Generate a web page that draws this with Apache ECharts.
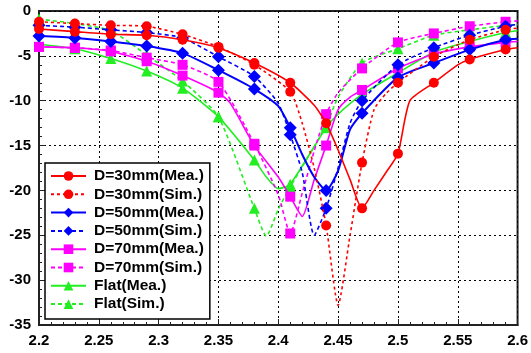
<!DOCTYPE html>
<html>
<head>
<meta charset="utf-8">
<script src="https://cdn.jsdelivr.net/npm/echarts@6/dist/echarts.min.js"></script>
<style>
html,body{margin:0;padding:0;background:#fff;}
#chart{width:531px;height:353px;}
</style>
</head>
<body>
<div id="chart"></div>
<script>
// ---- data (frequency in GHz, S11 in dB) ----
const seriesNames = ['D=30mm(Mea.)','D=30mm(Sim.)','D=50mm(Mea.)','D=50mm(Sim.)','D=70mm(Mea.)','D=70mm(Sim.)','Flat(Mea.)','Flat(Sim.)'];

const d30MeaF = [2.20,2.23,2.26,2.29,2.32,2.35,2.38,2.41,2.43,2.44,2.45,2.46,2.47,2.48,2.49,2.50,2.51,2.53,2.55,2.56,2.59,2.60];
const d30MeaY = [-2.0,-2.3,-2.6,-2.7,-3.2,-4.1,-5.8,-8.0,-10.5,-12.5,-15.5,-18.8,-22.0,-20.0,-18.0,-15.9,-10.0,-8.0,-6.0,-5.4,-4.3,-4.1];

const d30SimF = [2.20,2.23,2.26,2.29,2.32,2.35,2.38,2.41,2.42,2.43,2.44,2.45,2.46,2.47,2.48,2.49,2.50,2.53,2.56,2.59,2.60];
const d30SimY = [-1.2,-1.4,-1.6,-1.7,-2.6,-4.0,-6.0,-9.0,-12.5,-17.5,-23.9,-32.8,-25.0,-16.9,-11.0,-9.2,-8.0,-5.1,-3.2,-2.1,-1.9];

const d50MeaF = [2.20,2.23,2.26,2.29,2.32,2.35,2.38,2.40,2.41,2.42,2.43,2.44,2.45,2.46,2.47,2.50,2.53,2.56,2.59,2.60];
const d50MeaY = [-2.8,-3.0,-3.4,-3.9,-4.7,-6.6,-8.7,-10.6,-13.0,-16.0,-18.5,-20.0,-17.8,-13.2,-11.4,-7.4,-5.8,-4.3,-3.2,-3.1];

const d50SimF = [2.20,2.23,2.26,2.29,2.32,2.35,2.38,2.40,2.41,2.42,2.43,2.44,2.45,2.46,2.47,2.50,2.53,2.56,2.59,2.60];
const d50SimY = [-1.6,-1.8,-2.1,-2.4,-3.0,-5.1,-7.3,-10.3,-13.8,-18.0,-25.0,-22.0,-17.5,-12.5,-10.0,-6.0,-4.1,-2.7,-1.7,-1.5];

const d70MeaF = [2.20,2.23,2.26,2.29,2.32,2.35,2.36,2.38,2.40,2.41,2.42,2.43,2.44,2.45,2.46,2.47,2.50,2.53,2.56,2.59,2.60];
const d70MeaY = [-4.0,-4.1,-4.5,-5.6,-7.2,-9.1,-10.3,-15.0,-18.5,-20.7,-22.9,-18.8,-15.0,-11.0,-9.6,-8.8,-6.4,-4.8,-4.0,-3.5,-3.4];

const d70SimF = [2.20,2.23,2.26,2.29,2.32,2.35,2.38,2.40,2.41,2.42,2.43,2.44,2.45,2.47,2.50,2.53,2.56,2.59,2.60];
const d70SimY = [-4.0,-4.1,-4.4,-5.2,-6.0,-7.9,-14.8,-20.5,-24.8,-20.3,-15.6,-11.5,-9.1,-6.4,-3.5,-2.5,-1.7,-1.2,-1.1];

const flatMeaF = [2.20,2.23,2.26,2.29,2.32,2.35,2.38,2.39,2.40,2.41,2.44,2.45,2.47,2.50,2.53,2.56,2.59,2.60];
const flatMeaY = [-3.7,-4.2,-5.3,-6.7,-8.6,-11.8,-16.6,-18.5,-19.8,-19.3,-13.0,-11.5,-9.3,-6.9,-4.6,-3.4,-2.4,-2.2];

const flatSimF = [2.20,2.23,2.26,2.29,2.32,2.35,2.38,2.39,2.40,2.41,2.44,2.45,2.47,2.50,2.53,2.56,2.59,2.60];
const flatSimY = [-0.9,-1.4,-2.2,-4.9,-7.8,-11.8,-22.0,-25.1,-22.1,-19.6,-12.8,-9.6,-5.8,-4.2,-2.7,-2.1,-1.6,-1.5];

// marker positions: every 0.03 GHz starting at 2.20
const markerStart = 2.20, markerStep = 0.03;

// ---- build ----
function pairs(f, y){ return f.map((v,i)=>[v, y[i]]); }
function isMarker(x){ const k=(x-markerStart)/markerStep; return Math.abs(k-Math.round(k))<1e-6 && x<2.595; }

const styles = [
  {color:'#ff0000', type:'solid', symbol:'circle', size:10},
  {color:'#ff0000', type:[3,3], symbol:'circle', size:10},
  {color:'#0000ff', type:'solid', symbol:'diamond', size:13},
  {color:'#0000ff', type:[4,3], symbol:'diamond', size:13},
  {color:'#ff00ff', type:'solid', symbol:'rect', size:10},
  {color:'#ff00ff', type:[4,3], symbol:'rect', size:10},
  {color:'#22ee22', type:'solid', symbol:'triangle', size:11},
  {color:'#22ee22', type:[4,3], symbol:'triangle', size:11}
];
const dataSets = [
  pairs(d30MeaF,d30MeaY), pairs(d30SimF,d30SimY),
  pairs(d50MeaF,d50MeaY), pairs(d50SimF,d50SimY),
  pairs(d70MeaF,d70MeaY), pairs(d70SimF,d70SimY),
  pairs(flatMeaF,flatMeaY), pairs(flatSimF,flatSimY)
];

const series = dataSets.map((d,i)=>{
  const s = styles[i];
  return {
    name: seriesNames[i],
    type: 'line',
    data: d,
    smooth: 0.2,
    symbol: s.symbol,
    symbolSize: function(v){ return isMarker(v[0]) ? s.size : 0; },
    showAllSymbol: true,
    lineStyle: {color: s.color, width: (i===2?2:1.6), type: s.type},
    itemStyle: {color: s.color},
    emphasis: {disabled: true},
    z: 3 + (7 - i)
  };
});

const labelFont = {fontFamily:'Liberation Sans, Arial, sans-serif', fontWeight:'bold', fontSize:15, color:'#000'};

const chart = echarts.init(document.getElementById('chart'), null, {renderer:'canvas'});
chart.setOption({
  animation: false,
  backgroundColor: '#fff',
  grid: {left:39, right:12, top:11, bottom:28, show:true, borderColor:'#222', borderWidth:2, backgroundColor:'transparent'},
  xAxis: {
    type:'value', min:2.2, max:2.6, interval:0.05,
    axisLine:{show:true, onZero:false, lineStyle:{color:'#222', width:2}},
    axisTick:{show:true, inside:true, length:6, lineStyle:{color:'#222', width:1}},
    minorTick:{show:true, splitNumber:5, length:3, lineStyle:{color:'#222', width:1}},
    splitLine:{show:true, lineStyle:{color:'#000', width:1, type:[2,3]}},
    axisLabel:Object.assign({margin:8, formatter:(v)=>String(parseFloat(v.toFixed(2)))}, labelFont)
  },
  yAxis: {
    type:'value', min:-35, max:0, interval:5,
    axisLine:{show:true, onZero:false, lineStyle:{color:'#222', width:2}},
    axisTick:{show:true, inside:true, length:6, lineStyle:{color:'#222', width:1}},
    minorTick:{show:true, splitNumber:5, length:3, lineStyle:{color:'#222', width:1}},
    splitLine:{show:true, lineStyle:{color:'#000', width:1, type:[2,3]}},
    axisLabel:Object.assign({margin:8}, labelFont)
  },
  legend: {
    orient:'vertical', left:45, top:163,
    backgroundColor:'#fff', borderColor:'#000', borderWidth:1.5, borderRadius:0,
    padding:[5,6,7,5],
    itemWidth:35, itemHeight:12, itemGap:2.3,
    textStyle:{fontFamily:'Liberation Sans, Arial, sans-serif', fontWeight:'bold', fontSize:15.5, color:'#000', padding:[0,0,0,3]},
    data: seriesNames,
    z: 20
  },
  series: series
});
</script>
</body>
</html>
